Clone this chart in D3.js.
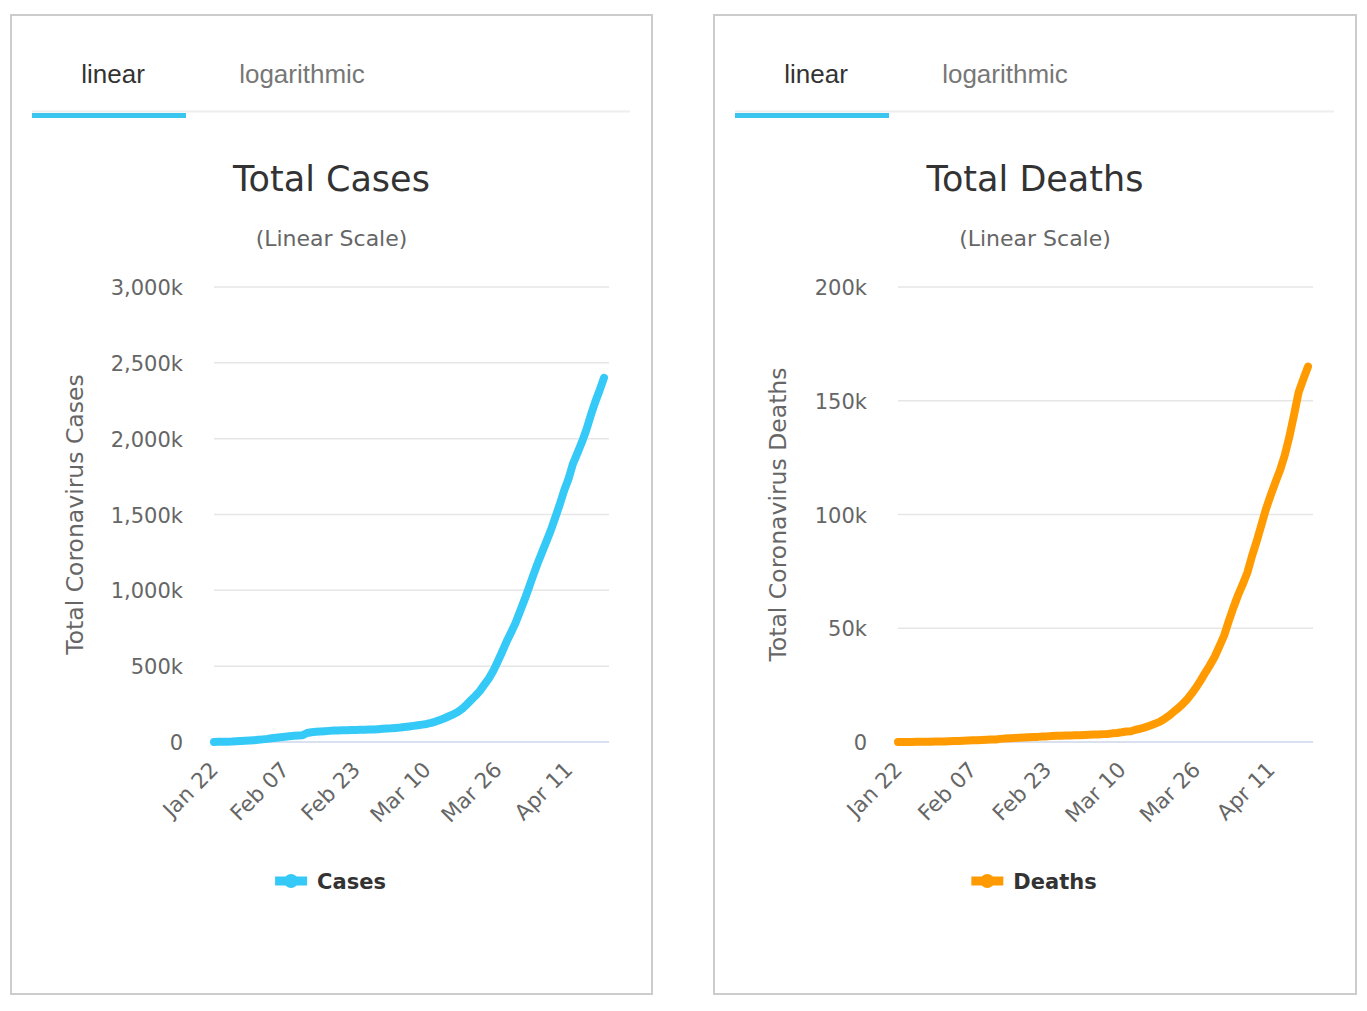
<!DOCTYPE html>
<html>
<head>
<meta charset="utf-8">
<script src="https://cdn.jsdelivr.net/npm/d3@7"></script>
<style>
  html, body { margin: 0; padding: 0; background: #fff; }
  svg { display: block; }
</style>
</head>
<body>
<svg id="chart" width="1367" height="1011"></svg>
<script>
// ---------- DATA ----------
const startDate = "2020-01-22";
const endDate = "2020-04-19";

const xTickLabels = ["Jan 22", "Feb 07", "Feb 23", "Mar 10", "Mar 26", "Apr 11"];
const xTickDates = ["2020-01-22", "2020-02-07", "2020-02-23", "2020-03-10", "2020-03-26", "2020-04-11"];

const casesValues = [
  580, 845, 1317, 2015, 2800, 4581, 6058, 7813, 9823, 11950,
  14553, 17391, 20630, 24545, 28266, 31439, 34876, 37552, 40553, 43099,
  45134, 59287, 64438, 67100, 69197, 71329, 73332, 75184, 75700, 76677,
  77673, 78651, 79205, 80087, 80828, 81820, 83112, 84615, 86604,
  88585, 90443, 93016, 95314, 98425, 102050, 106099, 109991, 114381, 118948,
  126214, 134576, 145483, 156653, 169593, 182490, 198238, 218822, 246667, 275856,
  305036, 337489, 378287, 417966, 467594, 529591, 593291, 660706, 720117, 782365, 857487,
  932605, 1013157, 1095917, 1176060, 1249754, 1321481, 1396476, 1479804, 1565278, 1657526,
  1735650, 1834721, 1904838, 1976191, 2056054, 2152437, 2240190, 2317759, 2401379
];

const deathsValues = [
  17, 18, 26, 42, 56, 82, 131, 133, 171, 213,
  259, 362, 426, 492, 564, 634, 719, 806, 906, 1013,
  1113, 1118, 1371, 1523, 1666, 1770, 1868, 2007, 2122, 2247,
  2251, 2458, 2469, 2629, 2708, 2770, 2814, 2872, 2941,
  2996, 3085, 3160, 3254, 3348, 3460, 3558, 3802, 3988, 4262,
  4615, 4720, 5404, 5819, 6440, 7126, 7905, 8733, 9867, 11299,
  12973, 14623, 16497, 18615, 21181, 23970, 27198, 30652, 33925, 37582, 42107,
  46809, 53190, 59131, 64606, 69374, 74565, 81865, 88338, 95455, 102525,
  108503, 114090, 119482, 125983, 134176, 143800, 153822, 159510, 165044
];

const casesYTicks = [0, 500000, 1000000, 1500000, 2000000, 2500000, 3000000];
const deathsYTicks = [0, 50000, 100000, 150000, 200000];

const tabLabels = ["linear", "logarithmic"];
// ---------- END DATA ----------

const parse = d3.utcParse("%Y-%m-%d");
const dates = d3.utcDay.range(parse(startDate), d3.utcDay.offset(parse(endDate), 1));

const svg = d3.select("#chart");
const chartFont = "'DejaVu Sans', Verdana, sans-serif";
const tabFont = "'Liberation Sans', Arial, sans-serif";

function drawPanel(cfg) {
  const g = svg.append("g");

  // panel border
  g.append("rect")
    .attr("x", cfg.px0).attr("y", 15)
    .attr("width", cfg.px1 - cfg.px0).attr("height", 979)
    .attr("fill", "none").attr("stroke", "#cccccc").attr("stroke-width", 2);

  // tabs
  g.append("line")
    .attr("x1", cfg.tabX0).attr("x2", cfg.tabLineEnd)
    .attr("y1", 111.5).attr("y2", 111.5)
    .attr("stroke", "#eeeeee").attr("stroke-width", 2);
  g.append("rect")
    .attr("x", cfg.tabX0).attr("y", 113)
    .attr("width", 154).attr("height", 5)
    .attr("fill", "#3bc6f0");
  g.append("text")
    .attr("x", cfg.tabX0 + 81).attr("y", 83)
    .attr("text-anchor", "middle")
    .style("font-family", tabFont).style("font-size", "26px")
    .attr("fill", "#333").text(tabLabels[0]);
  g.append("text")
    .attr("x", cfg.tabX0 + 270).attr("y", 83)
    .attr("text-anchor", "middle")
    .style("font-family", tabFont).style("font-size", "26px")
    .attr("fill", "#777").text(tabLabels[1]);

  const cx = (cfg.px0 + cfg.px1) / 2;

  // title & subtitle
  g.append("text")
    .attr("x", cx).attr("y", 191)
    .attr("text-anchor", "middle")
    .style("font-family", chartFont).style("font-size", "35px")
    .attr("fill", "#333").text(cfg.title);
  g.append("text")
    .attr("x", cx).attr("y", 246)
    .attr("text-anchor", "middle")
    .style("font-family", chartFont).style("font-size", "22px")
    .attr("fill", "#666").text("(Linear Scale)");

  // scales
  const x = d3.scaleUtc()
    .domain([dates[0], dates[dates.length - 1]])
    .range([cfg.plotLeft, cfg.plotLast]);
  const y = d3.scaleLinear()
    .domain([0, cfg.yMax])
    .range([742, 287]);

  // gridlines
  g.append("g").selectAll("line")
    .data(cfg.yTicks.filter(d => d > 0))
    .join("line")
    .attr("x1", cfg.plotLeft).attr("x2", cfg.gridRight)
    .attr("y1", d => y(d)).attr("y2", d => y(d))
    .attr("stroke", "#e6e6e6").attr("stroke-width", 1.5);

  // x axis line
  g.append("line")
    .attr("x1", cfg.plotLeft).attr("x2", cfg.gridRight)
    .attr("y1", y(0)).attr("y2", y(0))
    .attr("stroke", "#ccd6eb").attr("stroke-width", 1.5);

  // y axis (labels)
  const yAxis = d3.axisLeft(y)
    .tickValues(cfg.yTicks)
    .tickSize(0)
    .tickPadding(0)
    .tickFormat(d => d === 0 ? "0" : d3.format(",")(d / 1000) + "k");
  const ya = g.append("g")
    .attr("transform", `translate(${cfg.plotLeft - 31},0)`)
    .call(yAxis);
  ya.select(".domain").remove();
  ya.selectAll("text")
    .style("font-family", chartFont).style("font-size", "21px")
    .attr("fill", "#666").attr("dy", "0.36em");

  // y axis title
  g.append("text")
    .attr("transform", `translate(${cfg.yTitleX},${(y(0) + y(cfg.yMax)) / 2}) rotate(-90)`)
    .attr("text-anchor", "middle")
    .style("font-family", chartFont).style("font-size", "23.5px")
    .attr("fill", "#666").text(cfg.yTitle);

  // x axis labels
  const xAxis = d3.axisBottom(x)
    .tickValues(xTickDates.map(parse))
    .tickSize(0)
    .tickFormat((d, i) => xTickLabels[i]);
  const xa = g.append("g")
    .attr("transform", `translate(0,${y(0)})`)
    .call(xAxis);
  xa.select(".domain").remove();
  xa.selectAll("text")
    .attr("y", 0).attr("dy", 0)
    .attr("text-anchor", "end")
    .attr("transform", "translate(5,29) rotate(-45)")
    .style("font-family", chartFont).style("font-size", "21.5px")
    .attr("fill", "#666");

  // series line
  const line = d3.line()
    .x((d, i) => x(dates[i]))
    .y(d => y(d));
  g.append("path")
    .datum(cfg.values)
    .attr("d", line)
    .attr("fill", "none")
    .attr("stroke", cfg.color)
    .attr("stroke-width", 8)
    .attr("stroke-linejoin", "round")
    .attr("stroke-linecap", "round");

  // legend
  const lg = g.append("g");
  const lt = lg.append("text")
    .attr("x", 42).attr("y", 8)
    .style("font-family", chartFont).style("font-size", "21px")
    .style("font-weight", "bold")
    .attr("fill", "#333").text(cfg.legend);
  lg.append("line")
    .attr("x1", 0).attr("x2", 32).attr("y1", 0).attr("y2", 0)
    .attr("stroke", cfg.color).attr("stroke-width", 9);
  lg.append("circle")
    .attr("cx", 16).attr("cy", 0).attr("r", 7)
    .attr("fill", cfg.color);
  const tw = lt.node().getComputedTextLength();
  const total = 42 + tw;
  lg.attr("transform", `translate(${cx - 1 - total / 2},881)`);
}

drawPanel({
  px0: 11, px1: 652,
  tabX0: 32, tabLineEnd: 630,
  title: "Total Cases",
  plotLeft: 214, plotLast: 604, gridRight: 609,
  yMax: 3000000, yTicks: casesYTicks,
  yTitle: "Total Coronavirus Cases", yTitleX: 83,
  values: casesValues, color: "#35c9f7", legend: "Cases"
});

drawPanel({
  px0: 714, px1: 1356,
  tabX0: 735, tabLineEnd: 1334,
  title: "Total Deaths",
  plotLeft: 898, plotLast: 1308, gridRight: 1313,
  yMax: 200000, yTicks: deathsYTicks,
  yTitle: "Total Coronavirus Deaths", yTitleX: 786,
  values: deathsValues, color: "#ff9a00", legend: "Deaths"
});
</script>
</body>
</html>
